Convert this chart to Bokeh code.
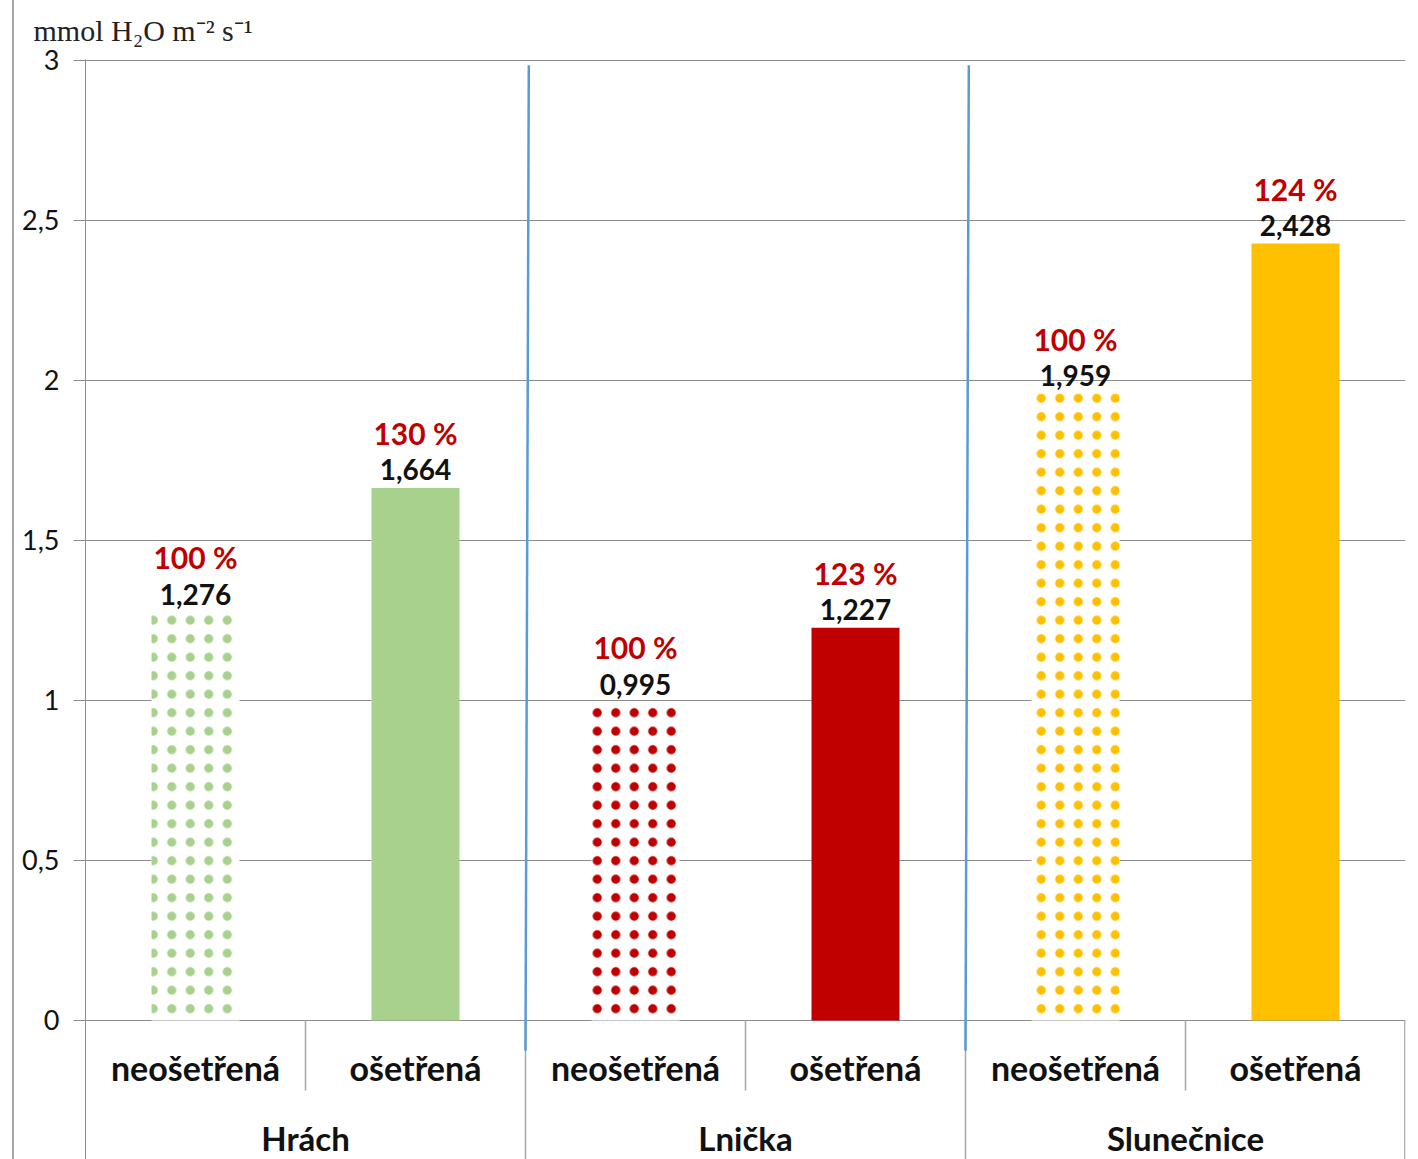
from bokeh.plotting import figure
from bokeh.models import ColumnDataSource, FactorRange, Range1d, FixedTicker
from bokeh.embed import file_html
from bokeh.resources import INLINE
from bokeh.core.properties import value

# ---- data ----
plants = ["Hrách", "Lnička", "Slunečnice"]
treatments = ["neošetřená", "ošetřená"]
transpiration = [1.276, 1.664, 0.995, 1.227, 1.959, 2.428]
percent = [100, 130, 100, 123, 100, 124]
plant_colors = ["#A9D18E", "#C00000", "#FFC000"]
y_ticks = [0, 0.5, 1, 1.5, 2, 2.5, 3]
y_tick_labels = ["0", "0,5", "1", "1,5", "2", "2,5", "3"]
unit_label = "mmol H\u2082O  m\u207b\u00b2 s\u207b\u00b9"

factors = [(pl, t) for pl in plants for t in treatments]
colors = [plant_colors[i // 2] for i in range(len(factors))]
patterned = [t == treatments[0] for (_, t) in factors]

FIG_H = 1159
FRAME_H = 1100
Y_TOP = 3.003
Y_BOTTOM = Y_TOP - FRAME_H / 320.0

p = figure(
    x_range=FactorRange(factors=factors, range_padding=0, factor_padding=0,
                        group_padding=0, subgroup_padding=0),
    y_range=Range1d(Y_BOTTOM, Y_TOP),
    width=1399, height=FIG_H,
    output_backend="svg", toolbar_location=None,
    x_axis_location=None,
    title=unit_label,
    min_border_left=71, min_border_right=8, min_border_top=59, min_border_bottom=0,
    styles={"margin-left": "12px", "border-left": "2px solid #A6A6A6"},
)
p.outline_line_color = None
p.background_fill_color = "white"

# unit label (title)
p.title.text_font = "Liberation Serif"
p.title.text_font_size = "30px"
p.title.text_font_style = "normal"
p.title.text_color = "#222222"
p.title.align = "left"
p.title.offset = -52
p.title.standoff = 22
p.title.vertical_align = "top"

# y axis
p.yaxis.ticker = FixedTicker(ticks=y_ticks)
p.yaxis.major_label_overrides = {t: l for t, l in zip(y_ticks, y_tick_labels)}
p.yaxis.major_label_text_font = "Lato"
p.yaxis.major_label_text_font_size = "27px"
p.yaxis.major_label_text_color = "#111111"
p.yaxis.major_tick_out = 12
p.yaxis.major_tick_in = 0
p.yaxis.minor_tick_line_color = None
p.yaxis.major_label_standoff = 14
p.yaxis.axis_line_color = "#8C8C8C"
p.yaxis.major_tick_line_color = "#8C8C8C"

p.ygrid.ticker = FixedTicker(ticks=y_ticks)
p.ygrid.grid_line_color = "#8C8C8C"
p.xgrid.grid_line_color = None

# bars
src = ColumnDataSource(dict(
    x=factors,
    top=transpiration,
    fill=["white" if pt else c for pt, c in zip(patterned, colors)],
    hatch=["dot" if pt else " " for pt in patterned],
    hcolor=colors,
))
p.vbar(x="x", top="top", width=0.4, source=src, fill_color="fill",
       hatch_pattern="hatch", hatch_color="hcolor", hatch_scale=18.5,
       hatch_weight=3, line_color=None)

# data labels
lab = ColumnDataSource(dict(
    x=factors,
    y=transpiration,
    val=[f"{v:.3f}".replace(".", ",") for v in transpiration],
    pct=[f"{q} %" for q in percent],
))
p.text(x="x", y="y", text="val", source=lab, text_align="center",
       text_baseline="alphabetic", y_offset=-18, text_font=value("Lato"),
       text_font_style="bold", text_font_size="28px", text_color="#111111")
p.text(x="x", y="y", text="pct", source=lab, text_align="center",
       text_baseline="alphabetic", y_offset=-55, text_font=value("Lato"),
       text_font_style="bold", text_font_size="30px", text_color="#C00000")

# category labels
p.text(x=factors, y=[-0.147] * len(factors), text=[t for (_, t) in factors],
       text_align="center", text_baseline="middle", text_font=value("Lato"),
       text_font_style="bold", text_font_size="34px", text_color="#111111")
p.text(x=[(pl, treatments[0], 0.5) for pl in plants], y=[-0.366] * len(plants),
       text=plants, text_align="center", text_baseline="middle",
       text_font=value("Lato"), text_font_style="bold", text_font_size="33px",
       text_color="#111111")

# category separators
sep_x, sep_y1 = [], []
for i in range(1, len(factors) + 1):
    pl, t = factors[i - 1]
    off = 0.5 if i < len(factors) else 0.497
    sep_x.append((pl, t, off))
    sep_y1.append(Y_BOTTOM if i % 2 == 0 else -0.219)
p.segment(x0=sep_x, y0=[0] * len(sep_x), x1=sep_x, y1=sep_y1,
          line_color="#A6A6A6", line_width=1.5)

# blue group dividers
div_top = [(plants[i], treatments[1], 0.515) for i in range(len(plants) - 1)]
div_bot = [(plants[i], treatments[1], 0.5) for i in range(len(plants) - 1)]
p.segment(x0=div_top, y0=[2.985] * len(div_top), x1=div_bot, y1=[-0.095] * len(div_bot),
          line_color="#5B9BD5", line_width=2.5)

open("out.html", "w").write(file_html(p, INLINE))
